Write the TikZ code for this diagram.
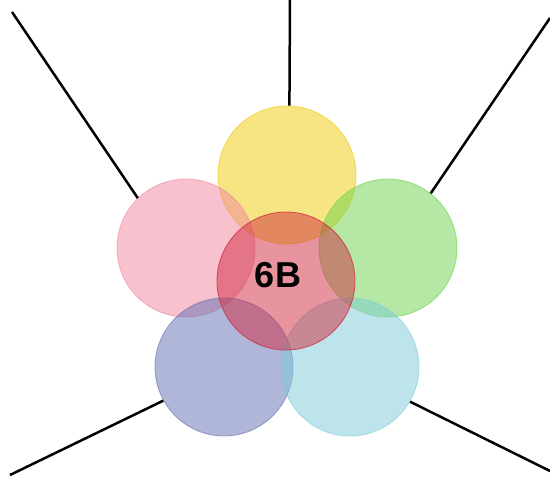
\documentclass[tikz,border=0pt]{standalone}
\usepackage{fontspec}
\setmainfont{Liberation Sans}
\begin{document}
\begin{tikzpicture}[x=1pt,y=-1pt,
  petal/.style={circle, minimum size=138pt, inner sep=0pt, line width=0.8pt, fill opacity=0.5, draw opacity=0.6},
  conn/.style={line width=2.5pt, black}]
\definecolor{cyel}{HTML}{EFCD07}
\definecolor{cpink}{HTML}{F1859D}
\definecolor{cgreen}{HTML}{6BD34B}
\definecolor{cblue}{HTML}{616FB3}
\definecolor{ccyan}{HTML}{7DCBD7}
\definecolor{cred}{HTML}{D12B41}
\useasboundingbox (0,0) rectangle (550,478);
\fill[white] (0,0) rectangle (550,478);
\node[petal, fill=cyel, draw=cyel!90!orange] (yel) at (287,175) {};
\node[petal, fill=cpink, draw=cpink] (pink) at (186,248) {};
\node[petal, fill=cgreen, draw=cgreen] (green) at (388,248) {};
\node[petal, fill=cblue, draw=cblue] (blue) at (224,367) {};
\node[petal, fill=ccyan, draw=ccyan] (cyan) at (350,367) {};
\node[petal, fill=cred, draw=cred, draw opacity=0.8] (red) at (286,281) {};
\node[font=\bfseries\fontsize{36}{40}\selectfont, inner sep=0pt] (lbl) at (278,275) {6B};
\coordinate (t) at (290,0);
\coordinate (ul) at (12,12);
\coordinate (ur) at (550,18);
\coordinate (ll) at (10,475);
\coordinate (lr) at (550,471);
\draw[conn] (t) -- (yel.88);
\draw[conn] (ul) -- (pink.134);
\draw[conn] (ur) -- (green.52);
\draw[conn] (ll) -- (blue.209);
\draw[conn] (lr) -- (cyan.330);
\end{tikzpicture}
\end{document}
